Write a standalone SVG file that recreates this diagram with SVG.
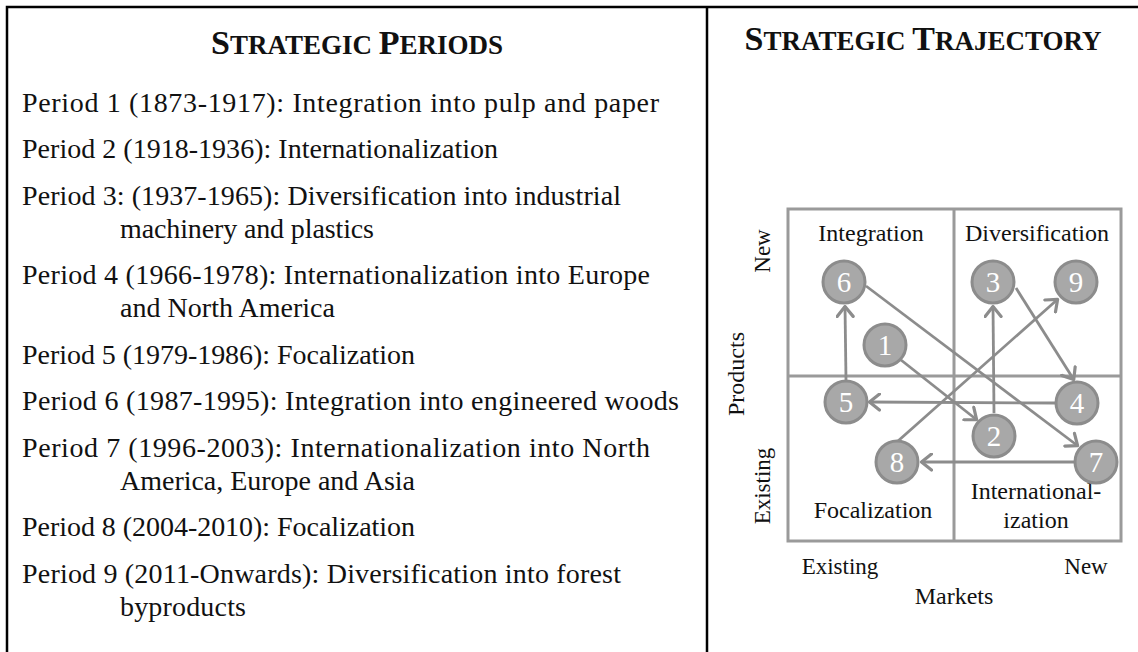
<svg xmlns="http://www.w3.org/2000/svg" width="1138" height="652" viewBox="0 0 1138 652">
<defs>
<style>
.frame{stroke:#000;stroke-width:2.5;fill:none}
.title{font-family:"Liberation Serif",serif;font-weight:bold;fill:#111}
.big{font-size:34px}
.sc{font-size:27px}
.txt{font-family:"Liberation Serif",serif;font-size:28px;fill:#111}
.lab{font-family:"Liberation Serif",serif;font-size:24px;fill:#111}
.ax{font-family:"Liberation Serif",serif;font-size:23px;fill:#111}
.grid{stroke:#9a9a9a;stroke-width:3;fill:none}
.con{stroke:#8c8c8c;stroke-width:2.8;fill:none;marker-end:url(#arr)}
.node circle{fill:#a8a8a8;stroke:#8c8c8c;stroke-width:3}
.node text{font-family:"Liberation Serif",serif;font-size:29px;fill:#fff;text-anchor:middle}
</style>
<marker id="arr" viewBox="0 0 13 19" refX="12" refY="9.5" markerWidth="13" markerHeight="19" orient="auto" markerUnits="userSpaceOnUse">
<path d="M1.5,1.5 L11.5,9.5 L1.5,17.5" fill="none" stroke="#8c8c8c" stroke-width="3.2" stroke-linecap="round" stroke-linejoin="round"/>
</marker>
</defs>
<rect width="1138" height="652" fill="#fff"/>
<g id="frame">
<path class="frame" d="M7,652 V7 H1138 M707,7 V652"/>
</g>
<g id="left-panel">
<text class="title" x="357" y="54" text-anchor="middle"><tspan class="big">S</tspan><tspan class="sc">TRATEGIC </tspan><tspan class="big">P</tspan><tspan class="sc">ERIODS</tspan></text>
<text class="txt" x="22" y="112" textLength="637" lengthAdjust="spacing">Period 1 (1873-1917): Integration into pulp and paper</text>
<text class="txt" x="22" y="158" textLength="476" lengthAdjust="spacing">Period 2 (1918-1936): Internationalization</text>
<text class="txt" x="22" y="205" textLength="599" lengthAdjust="spacing">Period 3: (1937-1965): Diversification into industrial</text>
<text class="txt" x="120" y="238" textLength="254" lengthAdjust="spacing">machinery and plastics</text>
<text class="txt" x="22" y="284" textLength="628" lengthAdjust="spacing">Period 4 (1966-1978): Internationalization into Europe</text>
<text class="txt" x="120" y="317" textLength="215" lengthAdjust="spacing">and North America</text>
<text class="txt" x="22" y="364" textLength="393" lengthAdjust="spacing">Period 5 (1979-1986): Focalization</text>
<text class="txt" x="22" y="410" textLength="657" lengthAdjust="spacing">Period 6 (1987-1995): Integration into engineered woods</text>
<text class="txt" x="22" y="457" textLength="628" lengthAdjust="spacing">Period 7 (1996-2003): Internationalization into North</text>
<text class="txt" x="120" y="490" textLength="295" lengthAdjust="spacing">America, Europe and Asia</text>
<text class="txt" x="22" y="536" textLength="393" lengthAdjust="spacing">Period 8 (2004-2010): Focalization</text>
<text class="txt" x="22" y="583" textLength="599" lengthAdjust="spacing">Period 9 (2011-Onwards): Diversification into forest</text>
<text class="txt" x="120" y="616" textLength="126" lengthAdjust="spacing">byproducts</text>
</g>
<g id="right-panel">
<text class="title" x="923" y="50" text-anchor="middle"><tspan class="big">S</tspan><tspan class="sc">TRATEGIC </tspan><tspan class="big">T</tspan><tspan class="sc">RAJECTORY</tspan></text>
</g>
<g id="matrix">
<rect class="grid" x="788" y="209" width="333" height="332"/>
<path class="grid" d="M954,209 V541 M788,376 H1121"/>
<text class="lab" x="871" y="241" text-anchor="middle">Integration</text>
<text class="lab" x="1037" y="241" text-anchor="middle">Diversification</text>
<text class="lab" x="873" y="518" text-anchor="middle">Focalization</text>
<text class="lab" x="1036" y="499" text-anchor="middle">International-</text>
<text class="lab" x="1036" y="528" text-anchor="middle">ization</text>
<text class="ax" x="840" y="574" text-anchor="middle">Existing</text>
<text class="ax" x="1086" y="574" text-anchor="middle">New</text>
<text class="lab" x="954" y="604" text-anchor="middle">Markets</text>
<text class="ax" transform="translate(770,251) rotate(-90)" text-anchor="middle">New</text>
<text class="lab" transform="translate(744,374) rotate(-90)" text-anchor="middle">Products</text>
<text class="ax" transform="translate(770,486) rotate(-90)" text-anchor="middle">Existing</text>
</g>
<g id="connectors">
<line class="con" x1="901" y1="360" x2="977" y2="420"/>
<line class="con" x1="994" y1="413" x2="993" y2="306"/>
<line class="con" x1="1016" y1="288" x2="1074" y2="380"/>
<line class="con" x1="1055" y1="403" x2="869" y2="402"/>
<line class="con" x1="846" y1="380" x2="845" y2="306"/>
<line class="con" x1="866" y1="286" x2="1078" y2="446"/>
<line class="con" x1="1074" y1="462" x2="921" y2="462"/>
<line class="con" x1="898" y1="441" x2="1058" y2="299"/>
</g>
<g id="node-1" class="node"><circle cx="885" cy="345" r="21"/><text x="885" y="355">1</text></g>
<g id="node-2" class="node"><circle cx="994" cy="436" r="21"/><text x="994" y="446">2</text></g>
<g id="node-3" class="node"><circle cx="993" cy="282" r="21"/><text x="993" y="292">3</text></g>
<g id="node-4" class="node"><circle cx="1077" cy="403" r="21"/><text x="1077" y="413">4</text></g>
<g id="node-5" class="node"><circle cx="846" cy="402" r="21"/><text x="846" y="412">5</text></g>
<g id="node-6" class="node"><circle cx="844" cy="282" r="21"/><text x="844" y="292">6</text></g>
<g id="node-7" class="node"><circle cx="1096" cy="462" r="21"/><text x="1096" y="472">7</text></g>
<g id="node-8" class="node"><circle cx="897" cy="462" r="21"/><text x="897" y="472">8</text></g>
<g id="node-9" class="node"><circle cx="1076" cy="282" r="21"/><text x="1076" y="292">9</text></g>
</svg>
